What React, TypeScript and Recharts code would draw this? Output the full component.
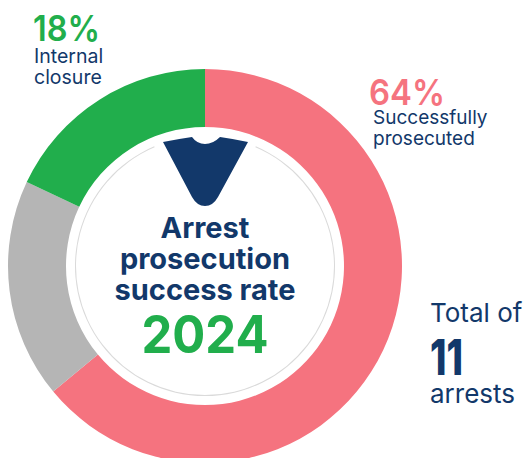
import React from 'react';
import { PieChart, Pie, Cell } from 'recharts';

const categories = ['Successfully prosecuted', 'Withdrawn', 'Internal closure'];
const shares = [64, 18, 18];
const colors = ['#F5737F', '#B5B5B5', '#21AE4C'];

const data = categories.map((name, i) => ({ name, value: shares[i] }));
const ringData = [{ name: 'ring', value: 1 }];

const NAVY = '#12386A';
const FONT = 'Inter, "Open Sans", sans-serif';

export default function App() {
  return (
    <div style={{ position: 'absolute', left: 0, top: 0, width: 524, height: 458, overflow: 'hidden', background: '#fff' }}>
      <PieChart width={524} height={458} margin={{ top: 0, right: 0, bottom: 0, left: 0 }}>
        <Pie
          data={data}
          dataKey="value"
          cx={205}
          cy={266}
          innerRadius={139}
          outerRadius={197}
          startAngle={90}
          endAngle={-270}
          stroke="none"
          isAnimationActive={false}
        >
          {data.map((d, i) => (
            <Cell key={d.name} fill={colors[i]} />
          ))}
        </Pie>
        <Pie
          data={ringData}
          dataKey="value"
          cx={205}
          cy={266}
          innerRadius={129}
          outerRadius={130}
          startAngle={67}
          endAngle={-247}
          fill="#DADADA"
          stroke="none"
          isAnimationActive={false}
        />
      </PieChart>
      <svg width={524} height={458} style={{ position: 'absolute', left: 0, top: 0 }} fontFamily={FONT}>
        <path
          d="M163 142 Q178 139 192 137 Q197 144 205 144 Q213 144 220 137 Q234 139 248 142 L218 197 Q213 206 205 206 Q197 206 192 197 Z"
          fill={NAVY}
        />
        <g textAnchor="middle" fill={NAVY} fontWeight={700} fontSize={29}>
          <text x={205} y={238}>Arrest</text>
          <text x={205} y={269}>prosecution</text>
          <text x={205} y={300}>success rate</text>
        </g>
        <text x={205} y={353} textAnchor="middle" fill="#21AE4C" fontWeight={700} fontSize={52} textLength={127} lengthAdjust="spacingAndGlyphs">2024</text>

        <text x={33} y={41} fill="#21AE4C" fontWeight={600} fontSize={36} textLength={67} lengthAdjust="spacingAndGlyphs">18%</text>
        <g fill={NAVY} fontSize={19.5}>
          <text x={34} y={63}>Internal</text>
          <text x={34} y={84}>closure</text>
        </g>

        <text x={369} y={105} fill="#F5737F" fontWeight={600} fontSize={36} textLength={76} lengthAdjust="spacingAndGlyphs">64%</text>
        <g fill={NAVY} fontSize={19}>
          <text x={373} y={124}>Successfully</text>
          <text x={373} y={145}>prosecuted</text>
        </g>

        <g fill={NAVY} fontSize={26}>
          <text x={430} y={322}>Total of</text>
          <text x={430} y={403}>arrests</text>
        </g>
        <text x={430} y={375} fill={NAVY} fontWeight={800} fontSize={50} textLength={33} lengthAdjust="spacingAndGlyphs">11</text>
      </svg>
    </div>
  );
}
